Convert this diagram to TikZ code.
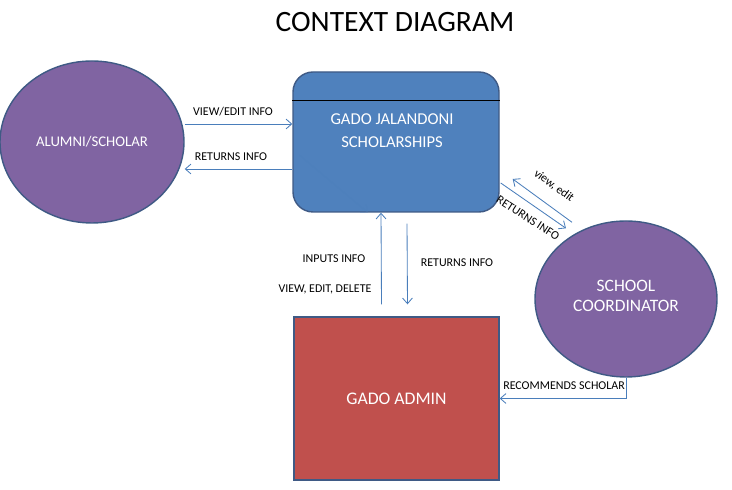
\documentclass[tikz,border=0pt]{standalone}
\usepackage{fontspec}
\setmainfont{Carlito}
\usetikzlibrary{arrows.meta,shapes.geometric}
\definecolor{entpurple}{HTML}{8064A2}
\definecolor{sysblue}{HTML}{4F81BD}
\definecolor{adminred}{HTML}{C0504D}
\definecolor{edgeblue}{HTML}{3F5A85}
\definecolor{flowblue}{HTML}{4A7EBB}
\tikzset{>={Straight Barb[length=4pt,width=7pt]}}

\begin{document}
\begin{tikzpicture}[
    flow/.style={->, draw=flowblue, line width=0.6pt},
    lbl/.style={font=\fontsize{8.5}{10}\selectfont, inner sep=0pt}
  ]
    \useasboundingbox (0,0) rectangle (18.3,12.25);

    % 标题
    \node (title) at (9.875,11.7) {\fontsize{21}{24}\selectfont CONTEXT DIAGRAM};

    % 外部实体
    \node[draw=edgeblue, line width=1pt, fill=entpurple, ellipse, minimum width=4.6cm, minimum height=4.05cm, text=white, font=\fontsize{10.5}{12}\selectfont] (alumni) at (2.3,8.7) {ALUMNI/SCHOLAR};
    \node[draw=edgeblue, line width=1pt, fill=entpurple, ellipse, minimum width=4.55cm, minimum height=3.9cm] (coord) at (15.65,4.775) {};
    \node[text=white, align=center, font=\fontsize{12.4}{14.3}\selectfont] (coordtext) at (15.65,4.85) {SCHOOL\\COORDINATOR};

    % 系统
    \node[draw=edgeblue, line width=1pt, fill=sysblue, rectangle, rounded corners=0.5cm, minimum width=5.15cm, minimum height=3.5cm] (system) at (9.9,8.7) {};
    \draw ([yshift=-0.725cm]system.north west) -- ([yshift=-0.725cm]system.north east);
    \node[text=white, align=center, font=\fontsize{11.8}{16.4}\selectfont] (systext) at (9.8,8.99) {GADO JALANDONI\\SCHOLARSHIPS};

    % 管理员
    \node[draw=edgeblue, line width=1pt, fill=adminred, rectangle, minimum width=5.125cm, minimum height=4.075cm, text=white, font=\fontsize{12.6}{14}\selectfont] (admin) at (9.9125,2.2875) {GADO ADMIN};

    % 数据流
    \draw[flow] ([yshift=0.45cm]alumni.east) -- ([yshift=0.45cm]system.west);
    \node[lbl] (l1) at (5.825,9.45) {VIEW/EDIT INFO};
    \draw[flow] ([yshift=-0.675cm]system.west) -- ([yshift=-0.675cm]alumni.east);
    \node[lbl] (l2) at (5.775,8.325) {RETURNS INFO};

    \draw[flow, draw opacity=0.3] ([shift={(0.175,-0.325)}]system.west) -- ([xshift=-0.7cm]system.south);

    \draw[flow] ([shift={(-0.375,0.3)}]admin.north) -- ([xshift=-0.375cm]system.south);
    \node[lbl] (l3) at (8.35,5.775) {INPUTS INFO};
    \node[lbl] (l4) at (8.125,5.025) {VIEW, EDIT, DELETE};
    \draw[flow] ([shift={(0.275,-0.275)}]system.south) -- ([shift={(0.275,0.3)}]admin.north);
    \node[lbl] (l5) at (11.425,5.675) {RETURNS INFO};

    \draw[flow] ([shift={(-1.35,-0.05)}]coord.north) -- ([shift={(0.325,-0.925)}]system.east);
    \node[lbl, rotate=-36] (l6) at (13.85,7.6) {view, edit};
    \draw[flow] ([shift={(0.025,-1.025)}]system.east) -- ([shift={(-1.5,-0.2)}]coord.north);
    \node[lbl, rotate=-33] (l7) at (13.2,6.8) {RETURNS INFO};

    \draw[flow] (coord.south) |- (admin.east);
    \node[lbl, anchor=west] (l8) at (12.575,2.6) {RECOMMENDS SCHOLAR};
  \end{tikzpicture}
\end{document}
